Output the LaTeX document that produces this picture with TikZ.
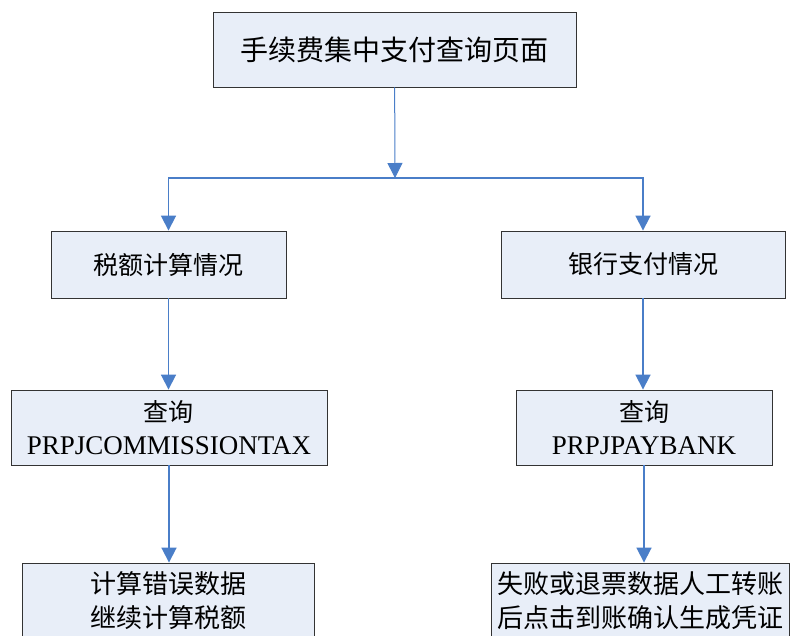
\documentclass[tikz,border=0pt]{standalone}
\usepackage{fontspec}
\setmainfont{Liberation Serif}
\newfontfamily\cjk{Noto Sans CJK SC}
\usetikzlibrary{positioning, arrows.meta}
\definecolor{boxfill}{HTML}{E8EEF8}
\definecolor{linkblue}{HTML}{4A7EC8}

\tikzset{
  box/.style={draw=black!80, fill=boxfill, line width=0.9pt, inner sep=0pt,
    align=center, font=\cjk\fontsize{25}{33}\selectfont},
  link/.style={draw=linkblue, line width=1.8pt,
    -{Triangle[length=15pt,width=15pt]}}
}

\begin{document}
\begin{tikzpicture}[x=1pt, y=-1pt]
		\useasboundingbox (0,0) rectangle (793,635);
		\clip (0,0) rectangle (793,635);
		\node[box, minimum width=363pt, minimum height=75pt, font=\cjk\fontsize{28}{33}\selectfont] (page) at (394.5,49.5) {手续费集中支付查询页面};
		\node[box, minimum width=235pt, minimum height=67pt] (tax) at (168.5,264.5) {税额计算情况};
		\node[box, minimum width=284pt, minimum height=67pt] (bank) at (643,264.5) {银行支付情况};
		\node[box, minimum width=316pt, minimum height=75pt] (taxq) at (169,427.5) {查询\\{\rmfamily\fontsize{27}{33}\selectfont PRPJCOMMISSIONTAX}};
		\node[box, minimum width=256pt, minimum height=75pt] (bankq) at (644,427.5) {查询\\{\rmfamily\fontsize{27}{33}\selectfont PRPJPAYBANK}};
		\node[box, minimum width=292pt, minimum height=75pt, font=\cjk\fontsize{26}{34}\selectfont] (taxfix) at (168,600.5) {计算错误数据\\继续计算税额};
		\node[box, minimum width=298pt, minimum height=75pt, font=\cjk\fontsize{26}{34}\selectfont] (bankfix) at (640,600.5) {失败或退票数据人工转账\\后点击到账确认生成凭证};
		\coordinate (split) at (395,178);
		
		\draw[link, line width=1pt] (page) -- (split);
		\draw[link] (split) -| (tax.north);
		\draw[link] (split) -| (bank.north);
		\draw[link] (tax) -- (tax |- taxq.north);
		\draw[link] (bank) -- (bank |- bankq.north);
		\draw[link] (taxq) -- (taxq |- taxfix.north);
		\draw[link] (bankq) -- (bankq |- bankfix.north);
	\end{tikzpicture}
\end{document}
